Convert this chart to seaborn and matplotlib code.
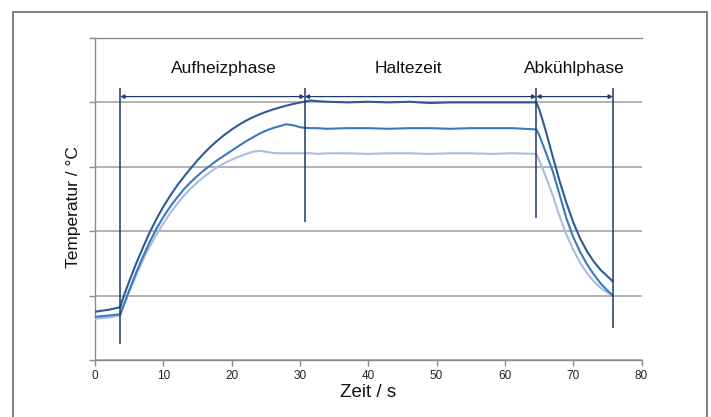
import pandas as pd
import matplotlib
matplotlib.use("Agg")
import matplotlib.pyplot as plt
from matplotlib.patches import Rectangle
import seaborn as sns

sns.set_style("white")
plt.rcParams['font.family'] = ['Liberation Sans', 'DejaVu Sans']

# ------------------------------------------------------------
# data (y in grid units 0..5)
# ------------------------------------------------------------
zeit = [0, 2, 3.7, 4, 5, 6, 7, 8, 9, 10, 11, 12, 13, 14, 15, 16, 17, 18, 19, 20,
        21, 22, 23, 24, 25, 26, 27, 28, 29, 30, 30.7, 31.5, 32.5, 34, 37, 40, 43,
        46, 49, 52, 55, 58, 61, 64.6, 65, 65.5, 66, 67, 68, 69, 70, 71, 72, 73,
        74, 75, 75.8]

temp_hoch = [0.75, 0.78, 0.82, 0.93, 1.22, 1.49, 1.74, 1.98, 2.19, 2.38, 2.55, 2.705,
             2.845, 2.975, 3.1, 3.215, 3.32, 3.415, 3.5, 3.578, 3.648, 3.71, 3.764, 3.811,
             3.852, 3.888, 3.92, 3.949, 3.975, 3.998, 4.01, 4.03, 4.02, 4.01, 4.0, 4.01,
             4.0, 4.01, 3.99, 4.0, 4.0, 4.0, 4.0, 4.0, 3.9, 3.73, 3.55, 3.16, 2.78,
             2.44, 2.14, 1.89, 1.69, 1.53, 1.4, 1.3, 1.22]

temp_mittel = [0.67, 0.69, 0.71, 0.8, 1.08, 1.35, 1.6, 1.83, 2.04, 2.22, 2.38, 2.52,
               2.65, 2.76, 2.86, 2.95, 3.03, 3.11, 3.18, 3.25, 3.32, 3.39, 3.45, 3.51,
               3.56, 3.6, 3.63, 3.66, 3.645, 3.615, 3.605, 3.6, 3.6, 3.59, 3.6, 3.6,
               3.59, 3.6, 3.6, 3.59, 3.6, 3.6, 3.6, 3.58, 3.5, 3.36, 3.22, 2.93,
               2.57, 2.2, 1.91, 1.68, 1.49, 1.33, 1.19, 1.08, 1.0]

temp_niedrig = [0.64, 0.66, 0.69, 0.78, 1.05, 1.31, 1.55, 1.76, 1.95, 2.12, 2.28, 2.42,
                2.55, 2.66, 2.76, 2.85, 2.93, 3.0, 3.06, 3.11, 3.155, 3.195, 3.23, 3.25,
                3.235, 3.215, 3.21, 3.21, 3.21, 3.21, 3.21, 3.21, 3.2, 3.21, 3.21, 3.2,
                3.21, 3.21, 3.2, 3.21, 3.21, 3.2, 3.21, 3.2, 3.1, 2.98, 2.84, 2.56,
                2.23, 1.95, 1.71, 1.51, 1.35, 1.22, 1.12, 1.05, 1.0]

# phase boundaries (s) and labels
grenzen = [3.7, 30.7, 64.6, 75.8]
grenzen_unten = [0.25, 2.14, 2.2, 0.5]
phasen = ["Aufheizphase", "Haltezeit", "Abkühlphase"]
phasen_x = [18.9, 45.8, 70.1]

df = pd.DataFrame({
    "Zeit": zeit * 3,
    "Temp": temp_niedrig + temp_mittel + temp_hoch,
    "Serie": ["niedrig"] * len(zeit) + ["mittel"] * len(zeit) + ["hoch"] * len(zeit),
})
palette = {"niedrig": "#A8BDDF", "mittel": "#3C78BE", "hoch": "#2C5B97"}
navy = "#1D3B66"

fig = plt.figure(figsize=(7.11, 4.17), dpi=100)
ax = fig.add_axes([0.1336, 0.1367, 0.7687, 0.7722])

sns.lineplot(data=df, x="Zeit", y="Temp", hue="Serie", palette=palette,
             linewidth=1.5, legend=False, ax=ax, zorder=3)

ax.set_xlim(0, 80)
ax.set_ylim(0, 5)
ax.set_xticks(range(0, 81, 10))
ax.set_yticks(range(0, 6))
ax.set_yticklabels([])
ax.grid(axis="y", color="#a6a6a6", linewidth=1.2)
ax.set_axisbelow(True)
ax.spines["right"].set_visible(False)
for s in ["left", "bottom", "top"]:
    ax.spines[s].set_color("#8c8c8c")
    ax.spines[s].set_linewidth(1.0)
ax.tick_params(axis="both", direction="out", length=4, width=1, color="#8c8c8c",
               labelsize=8.5, labelcolor="#222222", pad=3, left=True, bottom=True)

# phase markers
ax.vlines(grenzen, grenzen_unten, 4.22, color=navy, linewidth=1.1, zorder=4)
for a, b in zip(grenzen[:-1], grenzen[1:]):
    ax.annotate("", xy=(b, 4.09), xytext=(a, 4.09),
                arrowprops=dict(arrowstyle="<|-|>", color=navy, lw=0.9,
                                mutation_scale=6, shrinkA=0, shrinkB=0), zorder=4)
for name, xp in zip(phasen, phasen_x):
    ax.text(xp, 4.52, name, ha="center", va="center", fontsize=12.5, color="#111111")

ax.set_xlabel("Zeit / s", fontsize=13.5, color="#111111")
ax.xaxis.set_label_coords(0.5, -0.075)
ax.xaxis.label.set_va("top")
ax.set_ylabel("Temperatur / °C", fontsize=12.5, color="#111111")
ax.yaxis.set_label_coords(-0.026, 0.475)

# outer frame of the figure
fig.patches.append(Rectangle((13 / 711, -0.05), 694 / 711, 1 - 12 / 417 + 0.05,
                             transform=fig.transFigure, fill=False,
                             edgecolor="#7f7f7f", linewidth=1.4))

fig.savefig("out.png", dpi=100)
